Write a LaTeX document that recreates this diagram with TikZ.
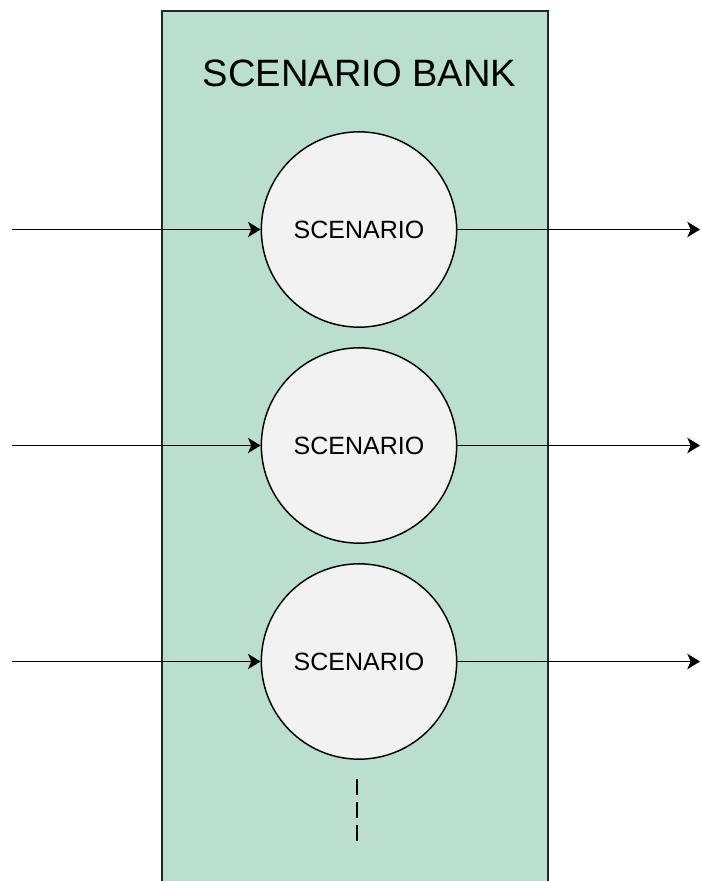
\documentclass[tikz,border=0pt]{standalone}
\usepackage{fontspec}
\setmainfont{Liberation Sans}
\usetikzlibrary{arrows.meta}
\definecolor{bankgreen}{HTML}{BAE0CD}
\definecolor{scengray}{HTML}{F2F2F2}
\tikzset{
  bank/.style={draw=black!85, fill=bankgreen, line width=1.3pt},
  scen/.style={circle, draw=black, fill=scengray, line width=1.1pt, minimum size=146.5pt, inner sep=0pt, font=\fontsize{18.75}{22}\selectfont},
  flow/.style={line width=1.25pt, -{Stealth[length=9.5pt,width=11.5pt,inset=2.5pt]}},
  title/.style={font=\fontsize{28.6}{34}\selectfont, inner sep=0pt},
  more/.style={line width=1.3pt, dash pattern=on 12pt off 5.25pt}
}
\begin{document}
\begin{tikzpicture}[x=0.75pt,y=-0.75pt]
\clip (0,0) rectangle (700,881);
\useasboundingbox (0,0) rectangle (700,881);
\draw[bank] (162,11) rectangle (548,900);
\node[title] (t) at (359.5,73) {SCENARIO BANK};
\node[scen] (s1) at (359,229.5) {SCENARIO};
\node[scen] (s2) at (359,445.5) {SCENARIO};
\node[scen] (s3) at (359,661.5) {SCENARIO};
\coordinate (i1) at (12,229.5);
\coordinate (i2) at (12,445.5);
\coordinate (i3) at (12,661.5);
\coordinate (o1) at (700,229.5);
\coordinate (o2) at (700,445.5);
\coordinate (o3) at (700,661.5);
\draw[flow] (i1) -- (s1);
\draw[flow] (i2) -- (s2);
\draw[flow] (i3) -- (s3);
\draw[flow] (s1) -- (o1);
\draw[flow] (s2) -- (o2);
\draw[flow] (s3) -- (o3);
\coordinate (d1) at (357,779);
\coordinate (d2) at (357,841);
\draw[more] (d1) -- (d2);
\end{tikzpicture}
\end{document}
